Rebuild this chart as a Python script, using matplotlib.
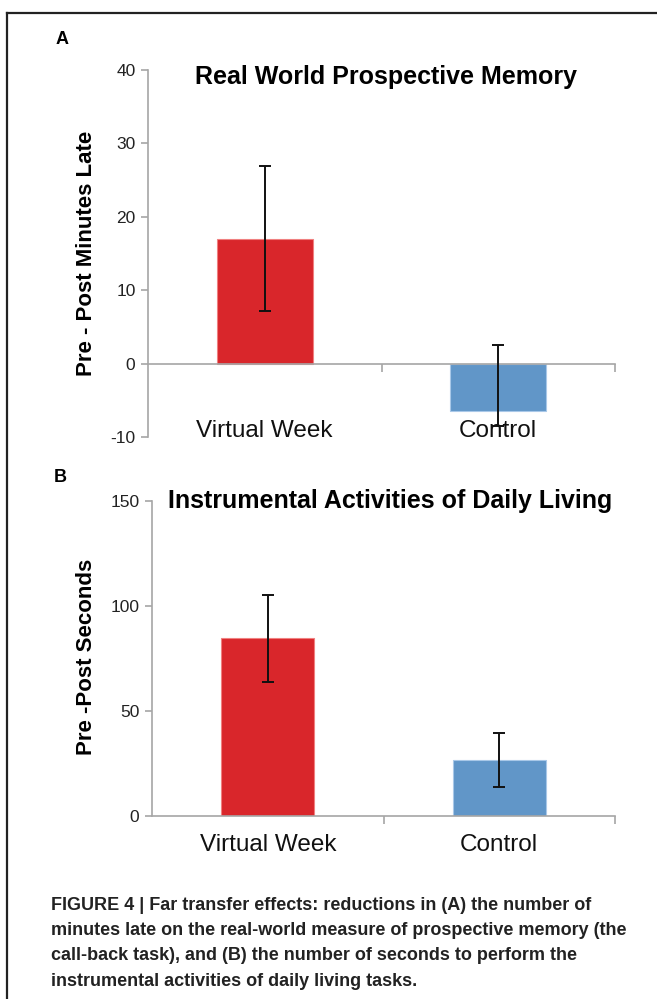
import matplotlib
matplotlib.use('Agg')
import matplotlib.pyplot as plt
from matplotlib.lines import Line2D

plt.rcParams['font.family'] = ['Liberation Sans', 'DejaVu Sans']
plt.rcParams['axes.unicode_minus'] = False

# Data
groups = ['Virtual Week', 'Control']
colors = ['#d9262b', '#6196c8']

pm_values = [17.0, -6.5]
pm_err_low = [9.9, 2.0]
pm_err_high = [9.9, 9.0]

iadl_values = [84.6, 26.7]
iadl_err = [20.8, 12.7]

W, H = 657, 999
fig = plt.figure(figsize=(W / 100, H / 100), dpi=100)

def frac(left, top, right, bottom):
    return [left / W, 1 - bottom / H, (right - left) / W, (bottom - top) / H]

axis_grey = '#a6a6a6'
x = list(range(len(groups)))

def style_axis(ax):
    for s in ['top', 'right']:
        ax.spines[s].set_visible(False)
    ax.spines['left'].set_color(axis_grey)
    ax.spines['bottom'].set_color(axis_grey)
    ax.spines['left'].set_linewidth(1.2)
    ax.spines['bottom'].set_linewidth(1.2)
    ax.set_xlim(-0.5, len(groups) - 0.5)
    ax.set_xticks([])
    ax.set_xticks([i + 0.5 for i in x], minor=True)
    ax.tick_params(axis='x', which='minor', length=6, color=axis_grey, width=1.2,
                   labelbottom=False)
    ax.tick_params(axis='y', length=5, color=axis_grey, width=1.2,
                   labelsize=12.5, labelcolor='#222222', pad=4)

# Panel A
axA = fig.add_axes(frac(148, 70, 615, 437))
axA.bar(x, pm_values, width=0.41, color=colors, edgecolor=['#f08080', '#a9c8e8'],
        linewidth=0.8, zorder=2)
axA.errorbar(x, pm_values, yerr=[pm_err_low, pm_err_high], fmt='none',
             ecolor='#111111', elinewidth=1.4, capsize=4.5, capthick=1.4, zorder=3)
axA.set_ylim(-10, 40)
axA.set_yticks([-10, 0, 10, 20, 30, 40])
style_axis(axA)
axA.spines['bottom'].set_position(('data', 0))
for i, g in enumerate(groups):
    axA.text(i, -9.2, g, ha='center', va='center', fontsize=17.5, color='#111111',
             zorder=4)
axA.set_ylabel('Pre - Post Minutes Late', fontsize=16, fontweight='bold')
axA.yaxis.set_label_coords(-0.109, 0.50)
axA.text(0.51, 0.98, 'Real World Prospective Memory', transform=axA.transAxes,
         ha='center', va='center', fontsize=18, fontweight='bold')

# Panel B
axB = fig.add_axes(frac(152, 501, 615, 816))
axB.bar(x, iadl_values, width=0.40, color=colors, edgecolor=['#f08080', '#a9c8e8'],
        linewidth=0.8, zorder=2)
axB.errorbar(x, iadl_values, yerr=iadl_err, fmt='none', ecolor='#111111',
             elinewidth=1.4, capsize=4.5, capthick=1.4, zorder=3)
axB.set_ylim(0, 150)
axB.set_yticks([0, 50, 100, 150])
style_axis(axB)
for i, g in enumerate(groups):
    axB.text(i, -13.8, g, ha='center', va='center', fontsize=17.5, color='#111111')
axB.set_ylabel('Pre -Post Seconds', fontsize=16, fontweight='bold')
axB.yaxis.set_label_coords(-0.119, 0.505)
axB.text(0.515, 1.0, 'Instrumental Activities of Daily Living', transform=axB.transAxes,
         ha='center', va='center', fontsize=18, fontweight='bold')

# Panel letters
fig.text(62 / W, 1 - 40 / H, 'A', ha='center', va='center', fontsize=13, fontweight='bold')
fig.text(60 / W, 1 - 478 / H, 'B', ha='center', va='center', fontsize=13, fontweight='bold')

# Caption
caption = ['FIGURE 4 | Far transfer effects: reductions in (A) the number of',
           'minutes late on the real-world measure of prospective memory (the',
           'call-back task), and (B) the number of seconds to perform the',
           'instrumental activities of daily living tasks.']
for k, line in enumerate(caption):
    fig.text(51 / W, 1 - (905 + 25.5 * k) / H, line, ha='left', va='center',
             fontsize=13, fontweight='bold', color='#222222')

# Frame
fig.add_artist(Line2D([7 / W, 1], [1 - 13 / H, 1 - 13 / H], color='#222222',
                      linewidth=1.6, transform=fig.transFigure))
fig.add_artist(Line2D([7 / W, 7 / W], [0, 1 - 13 / H], color='#222222',
                      linewidth=1.6, transform=fig.transFigure))

fig.savefig('out.png', dpi=100)
